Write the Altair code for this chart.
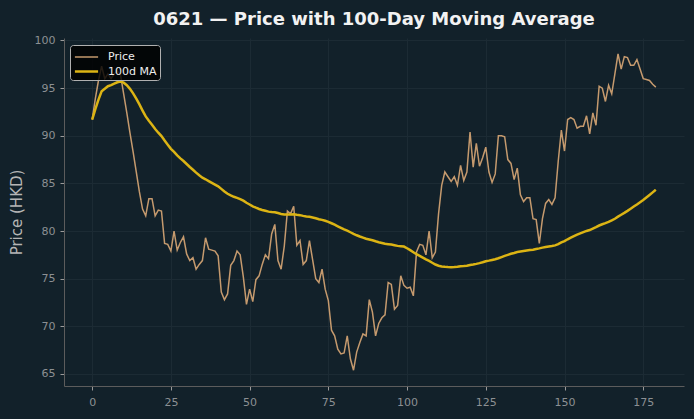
import altair as alt
import pandas as pd

# ---- data ----
days = list(range(180))
price = [
    91.7, 93.9, 95.8, 97.3, 96.0, 96.5, 96.0, 96.5, 96.8, 96.4,
    94.4, 92.4, 90.3, 88.3, 86.2, 84.1, 82.3, 81.6, 83.4, 83.4,
    81.6, 82.2, 82.1, 78.7, 78.6, 77.9, 80.0, 78.0, 78.8, 79.4,
    77.6, 76.9, 77.2, 76.0, 76.5, 76.9, 79.3, 78.1, 78.0, 77.9,
    77.4, 73.6, 72.8, 73.4, 76.4, 76.9, 77.9, 77.5, 75.2, 72.3,
    73.9, 72.6, 74.9, 75.3, 76.5, 77.5, 77.1, 79.7, 80.7, 76.9,
    76.0, 78.4, 82.1, 81.8, 82.6, 78.5, 79.0, 76.5, 76.9, 79.0,
    77.0, 75.0, 74.6, 76.0, 73.9, 72.7, 69.6, 69.0, 67.6, 67.1,
    67.2, 69.0, 66.6, 65.4, 67.3, 68.3, 69.2, 69.0, 72.8, 71.5,
    69.0, 70.3, 70.9, 71.2, 74.6, 74.4, 71.8, 72.2, 75.3, 74.3,
    74.0, 74.1, 73.2, 77.8, 78.6, 78.5, 77.5, 80.0, 77.2, 77.8,
    81.8, 84.8, 86.2, 85.7, 85.2, 85.7, 84.8, 86.9, 85.3, 86.2,
    90.4, 86.7, 89.2, 86.8, 87.7, 88.8, 86.2, 85.1, 86.0, 90.0,
    90.0, 89.9, 87.5, 87.1, 85.4, 86.6, 83.8, 83.1, 83.5, 83.5,
    81.3, 81.2, 78.7, 81.3, 82.9, 83.3, 82.8, 83.5, 87.3, 90.6,
    88.4, 91.7, 91.9, 91.7, 90.8, 91.0, 91.0, 92.1, 90.2, 92.4,
    91.1, 95.2, 95.0, 93.6, 95.3, 94.4, 96.5, 98.6, 97.0, 98.3,
    98.2, 97.4, 97.4, 98.0, 97.0, 96.0, 95.9, 95.8, 95.4, 95.1,
]
series_names = ["Price", "100d MA"]
series_colors = ["#c59a6e", "#dcb414"]
series_widths = [1.5, 2.5]
x_ticks = [0, 25, 50, 75, 100, 125, 150, 175]
y_ticks = [65, 70, 75, 80, 85, 90, 95, 100]
ma_window = 100

df = pd.DataFrame({"day": days, "price": price})

BG = "#12212a"
FONT = "DejaVu Sans"

x_enc = alt.X(
    "day:Q",
    scale=alt.Scale(domain=[-8.95, 187.95], nice=False, zero=False),
    axis=alt.Axis(values=x_ticks, title=None, labelPadding=6),
)
y_enc = alt.Y(
    "value:Q",
    scale=alt.Scale(domain=[63.74, 100.26], nice=False, zero=False),
    axis=alt.Axis(
        values=y_ticks,
        title="Price (HKD)",
        titleFont=FONT,
        titleFontSize=15,
        titleFontWeight="normal",
        titleColor="#b5b5b5",
        titleAngle=270,
        titleX=-48,
        titleY=174,
        titleAlign="center",
        titleBaseline="middle",
        labelPadding=5,
    ),
)
legend = alt.Legend(
    title=None,
    orient="none",
    legendX=6,
    legendY=7,
    fillColor="rgba(0,0,0,0.82)",
    strokeColor="#b0b0b0",
    cornerRadius=3,
    padding=3,
    rowPadding=0,
    symbolType="M-1.45,0L1.45,0",
    symbolSize=256,
    symbolOffset=4,
    labelOffset=12,
    labelFont=FONT,
    labelFontSize=11,
    labelColor="#eeeeee",
)
color_enc = alt.Color(
    "series:N",
    scale=alt.Scale(domain=series_names, range=series_colors),
    legend=legend,
)
width_enc = alt.StrokeWidth(
    "series:N",
    scale=alt.Scale(domain=series_names, range=series_widths),
    legend=legend,
)

price_line = alt.Chart().mark_line().encode(
    x=x_enc, y=y_enc, color=color_enc, strokeWidth=width_enc
).transform_filter("datum.series == 'Price'")

ma_line = alt.Chart().mark_line().encode(
    x=x_enc, y=y_enc, color=color_enc, strokeWidth=width_enc
).transform_filter("datum.series == '100d MA'")

chart = (
    alt.layer(price_line, ma_line, data=df)
    .transform_window(ma="mean(price)", frame=[-(ma_window - 1), 0], sort=[alt.SortField("day")])
    .transform_fold(["price", "ma"], as_=["key", "value"])
    .transform_calculate(series="datum.key == 'price' ? 'Price' : '100d MA'")
    .properties(
        width=620,
        height=348,
        title=alt.TitleParams(
            text="0621 — Price with 100-Day Moving Average",
            font=FONT,
            fontSize=18,
            fontWeight="bold",
            color="#f2f2f2",
            anchor="middle",
            frame="group",
            baseline="alphabetic",
            offset=13,
            dy=22,
        ),
        autosize=alt.AutoSizeParams(type="none"),
        padding={"left": 64, "top": 38, "right": 10, "bottom": 33},
    )
    .configure(background=BG)
    .configure_view(stroke=None)
    .configure_axis(
        labelFont=FONT,
        labelFontSize=11,
        labelColor="#8c9093",
        domainColor="#5c5c5c",
        domainWidth=1,
        tickColor="#9a9a9a",
        tickSize=4,
        gridColor="#1c2b34",
        gridWidth=1,
    )
    .configure_axisY(domain=True)
)

chart.save("out.html", embed_options={"renderer": "svg", "actions": False})
